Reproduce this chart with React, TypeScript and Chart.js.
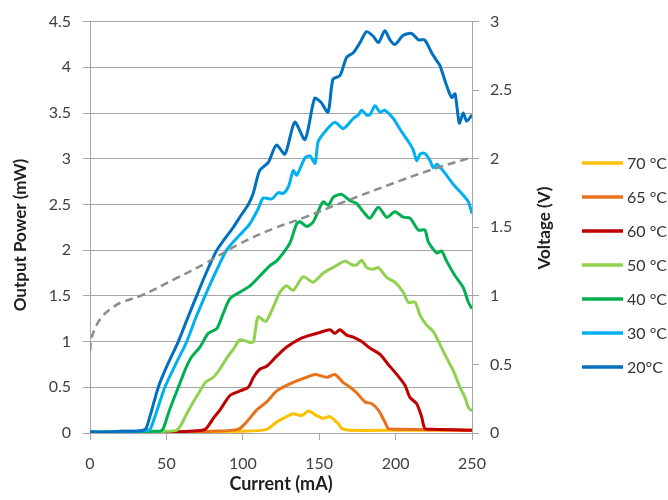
import { useEffect, useRef } from 'react';
import { Chart, registerables } from 'chart.js';

Chart.register(...registerables);

const FONT = 'Lato, "Open Sans", sans-serif';

// Current (mA) / output power (mW) per temperature
const current20 = [0, 10, 20, 30, 35, 37, 44.7, 50, 57.8, 63, 69.8, 76, 83, 88, 93.8, 98, 103.6, 106.8, 111, 116.7, 122, 127.6, 134, 140.7, 147, 151, 155.8, 159, 163.6, 168, 172.3, 176.7, 181, 185.4, 188.7, 193, 196.3, 199.6, 205, 210.5, 214.9, 219, 223.6, 227, 229, 233.4, 236.7, 238.9, 241.7, 244.3, 246.5, 250];
const power20 = [0.01, 0.01, 0.02, 0.02, 0.03, 0.06, 0.5, 0.72, 1.0, 1.22, 1.5, 1.75, 2.0, 2.12, 2.25, 2.36, 2.5, 2.62, 2.87, 2.96, 3.15, 3.05, 3.4, 3.21, 3.66, 3.62, 3.51, 3.87, 3.91, 4.11, 4.16, 4.27, 4.39, 4.34, 4.27, 4.4, 4.3, 4.25, 4.35, 4.37, 4.3, 4.3, 4.16, 4.07, 4.02, 3.8, 3.67, 3.71, 3.39, 3.5, 3.41, 3.48];

const current30 = [0, 10, 20, 30, 38, 40, 49, 56, 63.3, 69, 75.3, 82, 89.4, 96, 100, 104.7, 110, 113.4, 119, 123.2, 126.5, 130, 133, 135.3, 140.7, 144, 147.3, 149.4, 155, 160.3, 165.8, 172.3, 175.6, 177.8, 181, 183.2, 186.5, 189.8, 193, 198.5, 203, 208.3, 211.5, 213.8, 216, 219, 222.5, 224.7, 226.9, 231, 237.8, 244.3, 247.6, 250];
const power30 = [0.01, 0.01, 0.02, 0.02, 0.03, 0.06, 0.5, 0.75, 1.0, 1.25, 1.5, 1.75, 2.0, 2.13, 2.2, 2.29, 2.45, 2.57, 2.56, 2.63, 2.62, 2.7, 2.87, 2.82, 3.01, 3.03, 2.95, 3.19, 3.32, 3.4, 3.33, 3.44, 3.48, 3.53, 3.48, 3.48, 3.58, 3.51, 3.53, 3.44, 3.32, 3.19, 3.1, 2.98, 3.05, 3.06, 2.98, 2.9, 2.94, 2.87, 2.72, 2.6, 2.53, 2.4];

const current40 = [0, 20, 40, 46, 48, 52, 57.8, 62, 66, 72, 77.4, 82.9, 87, 91.6, 98, 104.7, 111.3, 117.8, 122, 126.5, 130.9, 135.3, 137.4, 141.8, 146.1, 150.5, 152.7, 156, 159.2, 164.7, 170.2, 174.5, 178.9, 183.2, 188.7, 194.2, 199.6, 205, 209.4, 214.9, 219.2, 221.4, 226.9, 230.1, 233.4, 238.9, 244.3, 247.6, 250];
const power40 = [0.01, 0.01, 0.02, 0.02, 0.05, 0.25, 0.5, 0.68, 0.82, 0.94, 1.09, 1.14, 1.3, 1.47, 1.54, 1.61, 1.72, 1.83, 1.88, 1.97, 2.08, 2.29, 2.31, 2.26, 2.31, 2.47, 2.53, 2.49, 2.58, 2.61, 2.54, 2.51, 2.42, 2.35, 2.47, 2.36, 2.42, 2.36, 2.35, 2.22, 2.22, 2.09, 1.97, 1.99, 1.88, 1.72, 1.59, 1.43, 1.36];

const current50 = [0, 30, 50, 56.7, 60, 63.3, 68, 72, 75.3, 80.7, 85, 89.5, 94, 98.2, 104.7, 107, 110, 115, 120, 124.3, 128.7, 133, 139.6, 146, 152.7, 159.2, 166.9, 171.3, 174.5, 177.8, 181, 185.4, 188.7, 194.2, 199.6, 205, 208.3, 212.7, 216, 220.3, 224.7, 229, 233.4, 237.8, 242.1, 245.4, 247.6, 250];
const power50 = [0.01, 0.01, 0.02, 0.03, 0.1, 0.21, 0.35, 0.46, 0.55, 0.61, 0.7, 0.82, 0.92, 1.02, 0.99, 1.0, 1.27, 1.22, 1.38, 1.54, 1.61, 1.56, 1.71, 1.65, 1.75, 1.81, 1.88, 1.84, 1.84, 1.89, 1.81, 1.79, 1.81, 1.7, 1.65, 1.54, 1.43, 1.43, 1.29, 1.18, 1.11, 0.97, 0.82, 0.68, 0.5, 0.39, 0.28, 0.24];

const current60 = [0, 50, 65, 75.3, 80.7, 85, 91.6, 98.2, 103.6, 107, 111.3, 115.6, 122.2, 128.7, 137.4, 144, 150.5, 157, 160.3, 163.6, 168, 172.3, 177.8, 183.2, 189.8, 195.2, 201.8, 206.2, 209.4, 213.8, 217, 219.2, 225, 250];
const power60 = [0.0, 0.01, 0.02, 0.04, 0.16, 0.25, 0.41, 0.46, 0.5, 0.61, 0.7, 0.73, 0.84, 0.94, 1.03, 1.07, 1.1, 1.13, 1.09, 1.13, 1.07, 1.05, 1.0, 0.93, 0.86, 0.75, 0.62, 0.52, 0.39, 0.32, 0.18, 0.05, 0.04, 0.03];

const current65 = [0, 50, 80, 97, 102.5, 109, 115.6, 122.2, 128.7, 135.3, 141.8, 147.3, 155, 160.3, 165.8, 170.2, 174.5, 180, 184.4, 188.7, 193, 195.2, 200, 250];
const power65 = [0, 0.01, 0.02, 0.04, 0.12, 0.25, 0.34, 0.46, 0.52, 0.57, 0.61, 0.64, 0.61, 0.64, 0.55, 0.5, 0.44, 0.34, 0.32, 0.25, 0.12, 0.05, 0.04, 0.03];

const current70 = [0, 100, 115.6, 122.2, 126.5, 133, 138.5, 142.9, 148.4, 152.7, 157, 162.5, 164.7, 170, 200, 250];
const power70 = [0, 0.02, 0.04, 0.12, 0.16, 0.21, 0.19, 0.24, 0.19, 0.16, 0.18, 0.1, 0.05, 0.03, 0.03, 0.03];

// Current (mA) / voltage (V)
const currentV = [0, 1, 4, 8, 13, 20, 33, 55, 76, 98, 120, 140, 165, 203, 229, 250];
const voltage = [0.6, 0.69, 0.78, 0.85, 0.9, 0.95, 1.0, 1.12, 1.24, 1.38, 1.49, 1.57, 1.68, 1.84, 1.94, 2.01];

const seriesLabels = ['70 °C', '65 °C', '60 °C', '50 °C', '40 °C', '30 °C', '20°C'];
const seriesColors = ['#FFC000', '#E8711A', '#C00000', '#92D050', '#00B050', '#00B0F0', '#0070C0'];

const xTitle = 'Current (mA)';
const yTitle = 'Output Power (mW)';
const y2Title = 'Voltage (V)';

function toPoints(xs: number[], ys: number[]) {
  return xs.map((x, i) => ({ x, y: ys[i] }));
}

const GRID = '#a6a6a6';
const TICK = '#404040';
const TITLE = '#1f1f1f';
const fmt = (v: any) => String(Number(v));

export default function App() {
  const ref = useRef<HTMLCanvasElement>(null);

  useEffect(() => {
    if (!ref.current) return;
    const series = [
      [current70, power70],
      [current65, power65],
      [current60, power60],
      [current50, power50],
      [current40, power40],
      [current30, power30],
      [current20, power20],
    ];

    const datasets: any[] = [
      {
        label: 'Voltage',
        data: toPoints(currentV, voltage),
        yAxisID: 'y2',
        borderColor: '#8c8c8c',
        borderDash: [8, 5],
        borderWidth: 2.5,
        pointRadius: 0,
        tension: 0.4,
        fill: false,
        order: 0,
      },
      ...series.map(([xs, ys], i) => ({
        label: seriesLabels[i],
        data: toPoints(xs as number[], ys as number[]),
        yAxisID: 'y',
        borderColor: seriesColors[i],
        backgroundColor: seriesColors[i],
        borderWidth: 3,
        pointRadius: 0,
        tension: 0.25,
        fill: false,
        order: 7 - i,
      })),
    ];

    const legendPlugin = {
      id: 'sideLegend',
      afterDraw(chart: any) {
        const ctx = chart.ctx;
        // vertical axis titles, reading bottom-to-top
        const vTitle = (text: string, x: number, y: number) => {
          ctx.save();
          ctx.fillStyle = TITLE;
          ctx.font = 'bold 17px ' + FONT;
          ctx.textAlign = 'center';
          ctx.textBaseline = 'middle';
          ctx.translate(x, y);
          ctx.rotate(-Math.PI / 2);
          ctx.fillText(text, 0, 0);
          ctx.restore();
        };
        vTitle(yTitle, 21, 235);
        vTitle(y2Title, 545, 228);

        ctx.save();
        ctx.font = '16px ' + FONT;
        ctx.textAlign = 'left';
        ctx.textBaseline = 'middle';
        seriesLabels.forEach((lab, i) => {
          const y = 163 + i * 34;
          ctx.strokeStyle = seriesColors[i];
          ctx.lineWidth = 3.5;
          ctx.beginPath();
          ctx.moveTo(582, y);
          ctx.lineTo(623, y);
          ctx.stroke();
          ctx.fillStyle = '#333333';
          ctx.fillText(lab, 627, y + 1);
        });
        ctx.restore();
      },
    };

    const chart = new Chart(ref.current, {
      type: 'line',
      data: { datasets },
      options: {
        animation: false,
        responsive: false,
        events: [],
        layout: { padding: { left: 0, right: 108, top: 15, bottom: 0 } },
        plugins: {
          legend: { display: false },
          tooltip: { enabled: false },
        },
        scales: {
          x: {
            type: 'linear',
            position: 'bottom',
            min: 0,
            max: 250,
            ticks: { stepSize: 50, color: TICK, font: { family: FONT, size: 16 }, padding: 14, maxRotation: 0, callback: fmt },
            grid: { drawOnChartArea: false, drawTicks: true, tickLength: 7, color: GRID },
            border: { display: true, color: GRID },
            title: { display: true, text: xTitle, color: TITLE, font: { family: FONT, size: 18, weight: 'bold' }, padding: { top: 0, bottom: 5 } },
            afterFit: (s: any) => { s.height = 67; },
          },
          y: {
            type: 'linear',
            position: 'left',
            min: 0,
            max: 4.5,
            ticks: { stepSize: 0.5, color: TICK, font: { family: FONT, size: 16 }, padding: 12, callback: fmt },
            grid: { drawOnChartArea: true, drawTicks: true, tickLength: 7, color: GRID },
            border: { display: true, color: GRID },
            title: { display: false },
            afterFit: (s: any) => { s.width = 90; },
          },
          y2: {
            type: 'linear',
            position: 'right',
            min: 0,
            max: 3,
            ticks: { stepSize: 0.5, color: TICK, font: { family: FONT, size: 16 }, padding: 11, callback: fmt },
            grid: { drawOnChartArea: false, drawTicks: true, tickLength: 7, color: GRID },
            border: { display: true, color: GRID },
            title: { display: false },
            afterFit: (s: any) => { s.width = 88; },
          },
        },
      },
      plugins: [legendPlugin],
    } as any);

    return () => chart.destroy();
  }, []);

  return (
    <div style={{ position: 'fixed', left: 0, top: 0, width: 668, height: 500, background: '#fff' }}>
      <canvas ref={ref} width={668} height={500} style={{ display: 'block' }} />
    </div>
  );
}
